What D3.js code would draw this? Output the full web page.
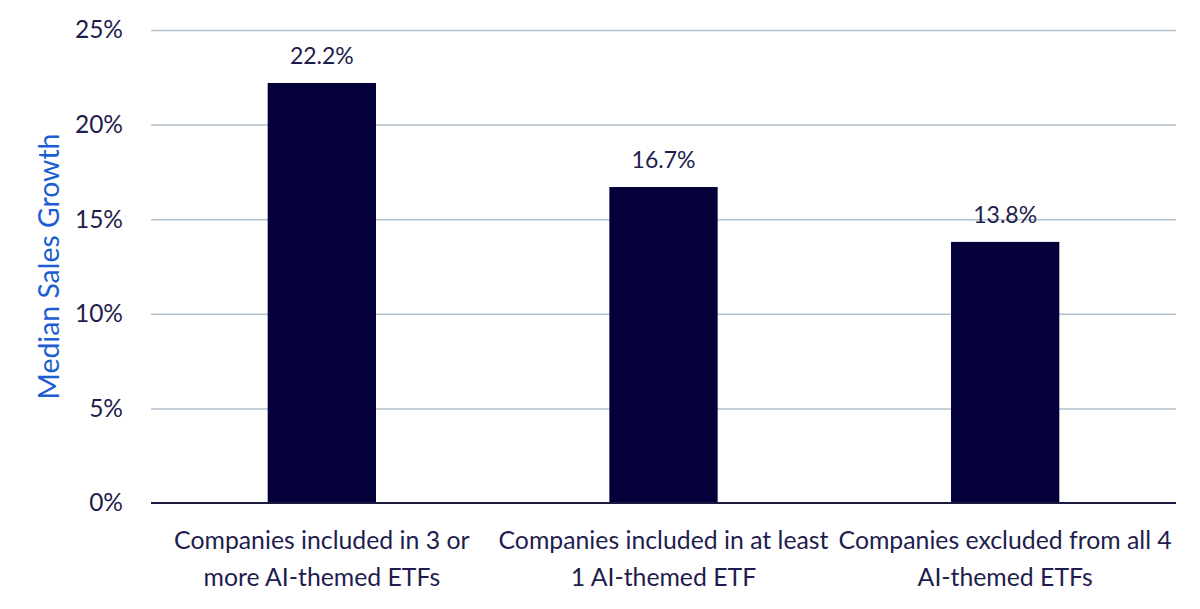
<!DOCTYPE html>
<html>
<head>
<meta charset="utf-8">
<script src="https://cdn.jsdelivr.net/npm/d3@7"></script>
<style>
  body { margin: 0; background: #fff; }
  svg text { font-family: Lato, "Open Sans", sans-serif; }
</style>
</head>
<body>
<div id="chart"></div>
<script>
const categories = [
  ["Companies included in 3 or", "more AI-themed ETFs"],
  ["Companies included in at least", "1 AI-themed ETF"],
  ["Companies excluded from all 4", "AI-themed ETFs"]
];
const values = [22.2, 16.7, 13.8];
const yTicks = [0, 5, 10, 15, 20, 25];

const width = 1200;
const height = 609;
const margin = { top: 30, right: 24, bottom: 106, left: 151 };
const innerW = width - margin.left - margin.right;
const innerH = height - margin.top - margin.bottom;

const textColor = '#1e1d4d';
const barColor = '#03003a';

const svg = d3.select('#chart')
  .append('svg')
    .attr('width', width)
    .attr('height', height);

const g = svg.append('g')
  .attr('transform', `translate(${margin.left}, ${margin.top})`);

const x = d3.scaleBand()
  .domain(d3.range(values.length))
  .range([0, innerW])
  .padding(0);

const y = d3.scaleLinear()
  .domain([0, 25])
  .range([innerH, 0]);

// gridlines
g.append('g')
  .attr('class', 'grid')
  .call(d3.axisLeft(y).tickValues(yTicks.slice(1)).tickSize(-innerW).tickFormat(''))
  .call(a => a.select('.domain').remove())
  .selectAll('line')
    .attr('stroke', '#b4c2cf')
    .attr('stroke-width', 1.5);

// y axis labels
g.append('g')
  .attr('class', 'domainY')
  .call(d3.axisLeft(y).tickValues(yTicks).tickSize(0).tickPadding(28).tickFormat(d => d + '%'))
  .call(a => a.select('.domain').remove())
  .selectAll('text')
    .attr('fill', textColor)
    .style('font-size', '24.5px');

const barW = x.bandwidth() * 0.317;

g.selectAll('rect.bar')
  .data(values)
  .enter()
  .append('rect')
    .attr('class', 'bar')
    .attr('x', (d, i) => x(i) + (x.bandwidth() - barW) / 2)
    .attr('y', d => y(d))
    .attr('width', barW)
    .attr('height', d => y(0) - y(d))
    .attr('fill', barColor);

g.selectAll('text.val')
  .data(values)
  .enter()
  .append('text')
    .attr('class', 'val')
    .attr('x', (d, i) => x(i) + x.bandwidth() / 2)
    .attr('y', d => y(d) - 19)
    .attr('text-anchor', 'middle')
    .attr('fill', textColor)
    .style('font-size', '23px')
    .text(d => d.toFixed(1) + '%');

// baseline
g.append('line')
  .attr('x1', 0)
  .attr('x2', innerW)
  .attr('y1', y(0))
  .attr('y2', y(0))
  .attr('stroke', '#1a1a40')
  .attr('stroke-width', 2);

// x category labels
const xl = g.append('g')
  .attr('transform', `translate(0, ${innerH})`);
categories.forEach((lines, i) => {
  const t = xl.append('text')
    .attr('x', x(i) + x.bandwidth() / 2)
    .attr('y', 46)
    .attr('text-anchor', 'middle')
    .attr('fill', textColor)
    .style('font-size', '24.8px');
  lines.forEach((l, j) => {
    t.append('tspan')
      .attr('x', x(i) + x.bandwidth() / 2)
      .attr('dy', j === 0 ? 0 : 37)
      .text(l);
  });
});

// y axis title
svg.append('text')
  .attr('transform', `translate(59, ${margin.top + innerH / 2}) rotate(-90)`)
  .attr('text-anchor', 'middle')
  .attr('fill', '#1c5ed1')
  .style('font-size', '28.4px')
  .text('Median Sales Growth');
</script>
</body>
</html>
